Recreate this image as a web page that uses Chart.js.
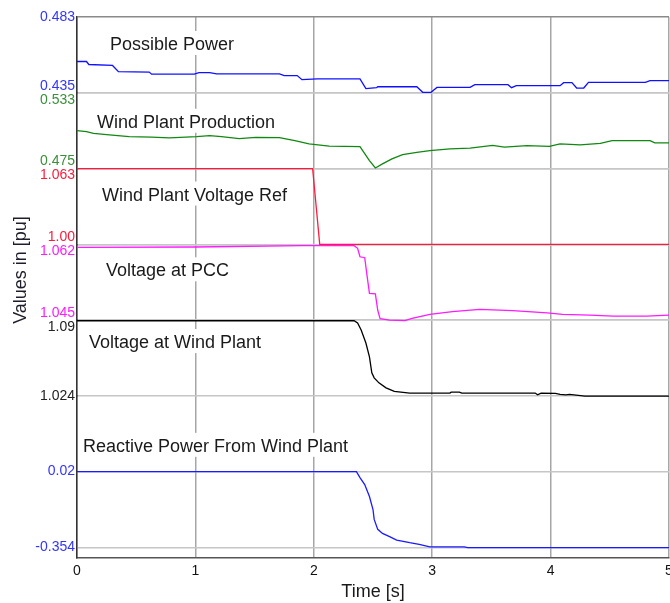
<!DOCTYPE html>
<html>
<head>
<meta charset="utf-8">
<script src="https://cdn.jsdelivr.net/npm/chart.js@4.4.1/dist/chart.umd.min.js"></script>
<style>
  html, body { margin: 0; padding: 0; background: #fff; }
  #wrap { width: 670px; height: 603px; overflow: hidden; }
</style>
</head>
<body>
<div id="wrap"><canvas id="grafico" width="680" height="603"></canvas></div>
<script>
// Signals (time in s, values in pu)
const possibleTime = [0, 0.08, 0.10, 0.30, 0.35, 0.61, 0.63, 0.99, 1.03, 1.12, 1.18, 1.71, 1.75, 1.86, 1.90, 2.03, 2.39, 2.44, 2.53, 2.54, 2.87, 2.92, 2.99, 3.04, 3.32, 3.36, 3.64, 3.67, 3.71, 4.08, 4.11, 4.18, 4.22, 4.28, 4.32, 4.80, 4.84, 5.0];
const possibleValue = [0.4548, 0.4548, 0.4529, 0.4523, 0.4484, 0.4481, 0.4468, 0.4468, 0.4478, 0.4478, 0.4470, 0.4470, 0.4459, 0.4459, 0.4433, 0.4438, 0.4438, 0.4376, 0.4382, 0.4388, 0.4388, 0.4353, 0.4353, 0.4384, 0.4384, 0.4401, 0.4401, 0.4382, 0.4395, 0.4395, 0.4414, 0.4414, 0.4380, 0.4380, 0.4416, 0.4416, 0.4427, 0.4427];

const productionTime = [0, 0.08, 0.14, 0.25, 0.44, 0.63, 0.78, 1.01, 1.12, 1.22, 1.37, 1.51, 1.71, 1.84, 1.96, 2.13, 2.39, 2.43, 2.47, 2.52, 2.58, 2.66, 2.75, 2.87, 2.98, 3.15, 3.32, 3.51, 3.61, 3.80, 3.99, 4.08, 4.25, 4.42, 4.52, 4.84, 4.88, 5.0];
const productionValue = [0.5040, 0.5032, 0.5019, 0.5010, 0.4994, 0.4990, 0.4984, 0.4994, 0.5002, 0.4994, 0.4979, 0.4988, 0.4987, 0.4964, 0.4939, 0.4922, 0.4918, 0.4865, 0.4811, 0.4754, 0.4786, 0.4824, 0.4857, 0.4874, 0.4887, 0.4900, 0.4907, 0.4928, 0.4914, 0.4926, 0.4920, 0.4939, 0.4931, 0.4943, 0.4964, 0.4964, 0.4946, 0.4946];

const refTime = [0, 1.99, 2.05, 5.0];
const refValue = [1.063, 1.063, 1.0, 1.0];

const pccTime = [0, 1.0, 1.9, 2.34, 2.37, 2.39, 2.43, 2.45, 2.47, 2.52, 2.54, 2.56, 2.64, 2.77, 2.83, 2.98, 3.17, 3.40, 3.68, 3.97, 4.10, 4.33, 4.53, 4.81, 5.0];
const pccValue = [1.0613, 1.0614, 1.0617, 1.0617, 1.0611, 1.0592, 1.0590, 1.0549, 1.0510, 1.0509, 1.0472, 1.0453, 1.0450, 1.0449, 1.0454, 1.0463, 1.0469, 1.0474, 1.0471, 1.0466, 1.0463, 1.0461, 1.0459, 1.0459, 1.0461];

const plantTime = [0, 2.34, 2.37, 2.40, 2.44, 2.47, 2.49, 2.51, 2.55, 2.61, 2.68, 2.81, 3.15, 3.16, 3.23, 3.25, 3.87, 3.89, 3.92, 4.04, 4.08, 4.13, 4.16, 4.29, 5.0];
const plantValue = [1.0894, 1.0894, 1.0874, 1.0813, 1.0700, 1.0579, 1.0440, 1.0397, 1.0353, 1.0310, 1.0279, 1.0264, 1.0264, 1.0272, 1.0272, 1.0264, 1.0264, 1.0249, 1.0264, 1.0262, 1.0253, 1.0249, 1.0253, 1.0238, 1.0238];

const reactiveTime = [0, 2.36, 2.39, 2.43, 2.47, 2.50, 2.51, 2.54, 2.58, 2.64, 2.70, 2.81, 2.89, 2.98, 3.27, 3.30, 5.0];
const reactiveValue = [0.02, 0.02, -0.0095, -0.044, -0.103, -0.167, -0.216, -0.265, -0.285, -0.301, -0.318, -0.331, -0.339, -0.351, -0.351, -0.355, -0.355];

// Tick values and their printed text, lowest first
const possibleTicks = [0.435, 0.483];
const productionTicks = [0.475, 0.533];
const refTicks = [1.00, 1.063];
const pccTicks = [1.045, 1.062];
const plantTicks = [1.024, 1.09];
const reactiveTicks = [-0.354, 0.02];
const refTickText = ['1.00', '1.063'];
const timeTicks = [0, 1, 2, 3, 4, 5];

const seriesNames = ['Possible Power', 'Wind Plant Production', 'Wind Plant Voltage Ref',
  'Voltage at PCC', 'Voltage at Wind Plant', 'Reactive Power From Wind Plant'];

const FONT = '"Liberation Sans", Arial, sans-serif';

// One strip per signal, top to bottom
const strips = [
  { id: 'yPoss', time: possibleTime, value: possibleValue, ticks: possibleTicks, line: '#1010ff', tick: '#3434ff', shift: ['up', ''], tx: 33, ty: 33 },
  { id: 'yProd', time: productionTime, value: productionValue, ticks: productionTicks, line: '#118811', tick: '#3b8f3b', shift: ['up', 'down'], tx: 20, ty: 35 },
  { id: 'yRef', time: refTime, value: refValue, ticks: refTicks, text: refTickText, line: '#ff1a3c', tick: '#ff1a3c', shift: ['up', 'down'], tx: 25, ty: 32 },
  { id: 'yPcc', time: pccTime, value: pccValue, ticks: pccTicks, line: '#ff1aff', tick: '#ff1aff', shift: ['up', 'down'], tx: 29, ty: 32 },
  { id: 'yPlant', time: plantTime, value: plantValue, ticks: plantTicks, line: '#000000', tick: '#222222', shift: ['', 'down'], tx: 12, ty: 28 },
  { id: 'yReact', time: reactiveTime, value: reactiveValue, ticks: reactiveTicks, line: '#1a1aff', tick: '#3434ff', shift: ['', ''], tx: 6, ty: 56, weight: 2.14 }
];

// Reactive strip is taller: one empty step above 0.02 and a small margin below -0.354
const reactStep = reactiveTicks[1] - reactiveTicks[0];

const datasets = strips.map((s, i) => ({
  label: seriesNames[i],
  yAxisID: s.id,
  data: s.time.map((t, k) => ({ x: t, y: s.value[k] })),
  borderColor: s.line,
  borderWidth: 1.3,
  pointRadius: 0,
  tension: 0,
  fill: false,
  clip: false
}));

const scales = {
  x: {
    type: 'linear',
    min: 0,
    max: 5,
    afterBuildTicks: sc => { sc.ticks = timeTicks.map(v => ({ value: v })); },
    afterFit: sc => { sc.height = 45; },
    ticks: { color: '#111', font: { family: FONT, size: 14 }, padding: 5 },
    grid: { color: '#a6a6a6', lineWidth: 1.5, drawTicks: false },
    border: { color: '#555', width: 1.5 },
    title: { display: true, text: 'Time [s]', color: '#1a1a1a', font: { family: FONT, size: 18 }, padding: { top: 0, bottom: 0 } }
  }
};

// Stacked axes are laid out with the last one on top, so add them bottom-up
strips.slice().reverse().forEach(s => {
  const lo = s.ticks[0], hi = s.ticks[1];
  const isReact = s.id === 'yReact';
  scales[s.id] = {
    type: 'linear',
    position: 'left',
    stack: 'strips',
    stackWeight: s.weight || 1,
    offset: false,
    min: isReact ? lo - reactStep * 0.14 : lo,
    max: isReact ? hi + reactStep : hi,
    afterBuildTicks: sc => { sc.ticks = s.ticks.map(v => ({ value: v })); },
    afterFit: sc => { sc.width = 77; },
    ticks: {
      color: s.tick,
      padding: 2,
      autoSkip: false,
      font: { family: FONT, size: 14, lineHeight: 1 },
      callback: (v, idx) => {
        const txt = s.text ? s.text[idx] : String(v);
        if (s.shift[idx] === 'up') return [txt, ''];
        if (s.shift[idx] === 'down') return ['', txt];
        return txt;
      }
    },
    grid: {
      drawTicks: false,
      lineWidth: 1.5,
      color: ctx => (s.id === 'yPoss' && ctx.tick && ctx.tick.value === hi) ? '#8a8a8a' : '#c6c6c6'
    },
    border: { color: '#333', width: 1.5 }
  };
});

// Strip names with a white backing, plus the shared y title
const stripTitles = {
  id: 'stripTitles',
  beforeDatasetsDraw(chart) {
    const { ctx, chartArea } = chart;
    ctx.save();
    ctx.font = '18px ' + FONT;
    ctx.textBaseline = 'alphabetic';
    ctx.textAlign = 'left';
    strips.forEach((s, i) => {
      const sc = chart.scales[s.id];
      const x = chartArea.left + s.tx;
      const y = sc.top + s.ty;
      const w = ctx.measureText(seriesNames[i]).width;
      ctx.fillStyle = '#fff';
      ctx.fillRect(x - 2, y - 19, w + 4, 24);
      ctx.fillStyle = '#1a1a1a';
      ctx.fillText(seriesNames[i], x, y);
    });
    ctx.translate(21, 270);
    ctx.rotate(-Math.PI / 2);
    ctx.textAlign = 'center';
    ctx.textBaseline = 'middle';
    ctx.fillStyle = '#1e1e2a';
    ctx.fillText('Values in [pu]', 0, 0);
    ctx.restore();
  }
};

new Chart(document.getElementById('grafico'), {
  type: 'line',
  data: { datasets },
  options: {
    responsive: false,
    animation: false,
    layout: { padding: { top: 17, right: 11, bottom: 0, left: 0 } },
    plugins: {
      legend: { display: false },
      tooltip: { enabled: false }
    },
    scales
  },
  plugins: [stripTitles]
});
</script>
</body>
</html>
